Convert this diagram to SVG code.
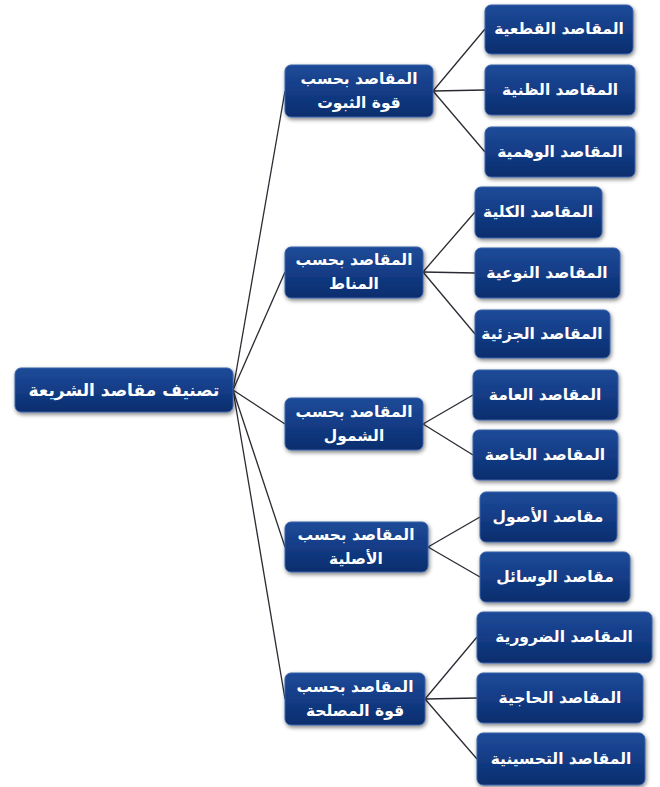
<svg xmlns="http://www.w3.org/2000/svg" width="660" height="787" viewBox="0 0 660 787">
<defs>
<linearGradient id="g" x1="0" y1="0" x2="0" y2="1">
<stop offset="0" stop-color="#1f4b98"/>
<stop offset="0.5" stop-color="#133c86"/>
<stop offset="1" stop-color="#0b2d6c"/>
</linearGradient>
<filter id="sh" x="-10%" y="-15%" width="125%" height="140%">
<feGaussianBlur in="SourceAlpha" stdDeviation="2"/>
<feOffset dx="1" dy="2" result="b"/>
<feComponentTransfer><feFuncA type="linear" slope="0.5"/></feComponentTransfer>
<feMerge><feMergeNode/><feMergeNode in="SourceGraphic"/></feMerge>
</filter>
</defs>
<style>
.box{fill:url(#g);stroke:#3a62aa;stroke-width:1;filter:url(#sh)}
.t{font-family:"DejaVu Sans",sans-serif;font-weight:bold;font-size:15.5px;fill:#ffffff;text-anchor:middle;dominant-baseline:central;direction:rtl}
.c line{stroke:#2a2a33;stroke-width:1.3}
</style>
<rect width="660" height="787" fill="#ffffff"/>
<g class="c" id="connectors">
<line x1="233" y1="390" x2="285" y2="91"/>
<line x1="233" y1="390" x2="285" y2="272"/>
<line x1="233" y1="390" x2="285" y2="424"/>
<line x1="233" y1="390" x2="285" y2="547"/>
<line x1="233" y1="390" x2="285" y2="699"/>
<line x1="433" y1="91" x2="485" y2="29"/>
<line x1="433" y1="91" x2="485" y2="90"/>
<line x1="433" y1="91" x2="485" y2="152"/>
<line x1="423" y1="272" x2="475" y2="212"/>
<line x1="423" y1="272" x2="475" y2="273"/>
<line x1="423" y1="272" x2="475" y2="334"/>
<line x1="423" y1="424" x2="473" y2="395"/>
<line x1="423" y1="424" x2="473" y2="455"/>
<line x1="428" y1="547" x2="480" y2="517"/>
<line x1="428" y1="547" x2="480" y2="577"/>
<line x1="425" y1="699" x2="477" y2="637"/>
<line x1="425" y1="699" x2="477" y2="698"/>
<line x1="425" y1="699" x2="477" y2="759"/>
</g>
<g id="root"><rect class="box" x="15" y="368" width="218" height="44" rx="6"/><text class="t" x="124" y="390" style="font-size:17px">تصنيف مقاصد الشريعة</text></g>
<g id="m1"><rect class="box" x="285" y="65" width="148" height="52" rx="6"/><text class="t" x="359" y="79">المقاصد بحسب</text><text class="t" x="359" y="103">قوة الثبوت</text></g>
<g id="m2"><rect class="box" x="285" y="247" width="138" height="51" rx="6"/><text class="t" x="354" y="260">المقاصد بحسب</text><text class="t" x="354" y="284">المناط</text></g>
<g id="m3"><rect class="box" x="285" y="398" width="138" height="52" rx="6"/><text class="t" x="354" y="412">المقاصد بحسب</text><text class="t" x="354" y="436">الشمول</text></g>
<g id="m4"><rect class="box" x="285" y="522" width="143" height="50" rx="6"/><text class="t" x="356" y="535">المقاصد بحسب</text><text class="t" x="356" y="559">الأصلية</text></g>
<g id="m5"><rect class="box" x="285" y="673" width="140" height="52" rx="6"/><text class="t" x="355" y="687">المقاصد بحسب</text><text class="t" x="355" y="711">قوة المصلحة</text></g>
<g id="l1"><rect class="box" x="485" y="5" width="148" height="49" rx="6"/><text class="t" x="559" y="29">المقاصد القطعية</text></g>
<g id="l2"><rect class="box" x="485" y="65" width="150" height="50" rx="6"/><text class="t" x="560" y="90">المقاصد الظنية</text></g>
<g id="l3"><rect class="box" x="485" y="127" width="150" height="50" rx="6"/><text class="t" x="560" y="152">المقاصد الوهمية</text></g>
<g id="l4"><rect class="box" x="475" y="187" width="127" height="51" rx="6"/><text class="t" x="538" y="212">المقاصد الكلية</text></g>
<g id="l5"><rect class="box" x="475" y="248" width="145" height="50" rx="6"/><text class="t" x="547" y="273">المقاصد النوعية</text></g>
<g id="l6"><rect class="box" x="475" y="310" width="135" height="48" rx="6"/><text class="t" x="542" y="334">المقاصد الجزئية</text></g>
<g id="l7"><rect class="box" x="473" y="370" width="145" height="50" rx="6"/><text class="t" x="545" y="395">المقاصد العامة</text></g>
<g id="l8"><rect class="box" x="473" y="430" width="145" height="50" rx="6"/><text class="t" x="545" y="455">المقاصد الخاصة</text></g>
<g id="l9"><rect class="box" x="480" y="492" width="137" height="50" rx="6"/><text class="t" x="548" y="517">مقاصد الأصول</text></g>
<g id="l10"><rect class="box" x="480" y="552" width="150" height="50" rx="6"/><text class="t" x="555" y="577">مقاصد الوسائل</text></g>
<g id="l11"><rect class="box" x="477" y="612" width="175" height="51" rx="6"/><text class="t" x="564" y="637">المقاصد الضرورية</text></g>
<g id="l12"><rect class="box" x="477" y="673" width="166" height="50" rx="6"/><text class="t" x="560" y="698">المقاصد الحاجية</text></g>
<g id="l13"><rect class="box" x="477" y="733" width="168" height="52" rx="6"/><text class="t" x="561" y="759">المقاصد التحسينية</text></g>
</svg>
